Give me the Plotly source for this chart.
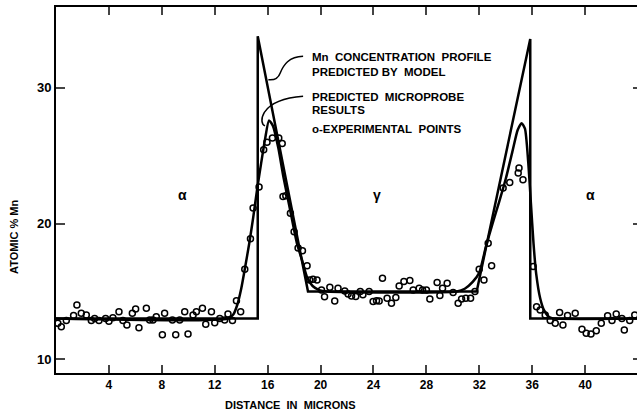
import plotly.graph_objects as go

# ---- Data ----
model_x = [0, 15.25, 15.25, 19.05, 31.8, 35.85, 35.85, 44]
model_y = [13.0, 13.0, 33.8, 15.0, 15.0, 33.6, 13.0, 13.0]

probe_x = [0, 13.0, 13.4, 13.7, 14.0, 14.3, 14.6, 14.9, 15.2, 15.5, 15.8, 16.1, 16.4, 16.8,
           17.2, 17.7, 18.2, 18.6, 19.0, 19.4, 19.9, 20.5,
           30.3, 30.9, 31.5, 32.0, 32.5, 33.0, 33.5, 34.0, 34.5, 34.9, 35.2, 35.45, 35.7,
           35.9, 36.1, 36.3, 36.6, 36.9, 37.3, 37.8, 44]
probe_y = [13.0, 13.0, 13.3, 14.0, 15.2, 16.8, 18.5, 20.4, 22.5, 24.4, 26.2, 27.6, 27.2, 25.6,
           23.4, 21.0, 18.6, 17.3, 16.0, 15.4, 15.1, 15.0,
           15.0, 15.2, 15.7, 16.4, 18.3, 20.0, 21.6, 23.3, 25.3, 26.9, 27.4, 27.0, 24.5,
           21.5, 18.5, 16.3, 14.5, 13.6, 13.1, 13.0, 13.0]

exp_x = [0.14, 0.4, 0.78, 1.33, 1.58, 1.91, 2.29, 2.67, 2.92, 3.25, 3.75, 4.0, 4.3, 4.76,
         5.06, 5.36, 5.77, 6.02, 6.27, 6.83, 7.08, 7.33, 7.58, 8.04, 8.21, 8.8, 9.05, 9.35,
         9.73, 9.98, 10.36, 10.61, 11.07, 11.32, 11.75, 12.0, 12.38, 12.75, 13.0, 13.34,
         13.64, 13.96, 14.27, 14.7, 14.9, 15.35, 15.7, 15.95, 16.36, 16.84, 17.1, 17.16,
         17.37, 17.72, 18.0, 18.3, 18.63, 18.98, 19.18, 19.43, 19.73, 20.07, 20.3, 20.7,
         21.07, 21.32, 21.83, 22.08, 22.34, 22.66, 23.0, 23.2, 23.67, 23.97, 24.23, 24.43,
         24.68, 25.03, 25.36, 25.69, 25.94, 26.3, 26.75, 27.0, 27.45, 27.71, 28.0, 28.26,
         28.81, 29.02, 29.22, 29.57, 30.02, 30.4, 30.66, 30.98, 31.34, 31.67, 31.99, 32.35,
         32.67, 32.93, 33.8, 34.3, 34.94, 35.0, 35.3, 36.07, 36.33, 36.6, 36.98, 37.36,
         37.74, 38.07, 38.32, 38.67, 39.25, 39.76, 40.08, 40.44, 40.84, 41.22, 41.7, 42.03,
         42.35, 42.78, 42.96, 43.37, 43.75]
exp_y = [12.66, 12.4, 12.85, 13.22, 14.0, 13.4, 13.27, 12.85, 13.0, 12.85, 13.0, 12.8, 13.07,
         13.5, 12.85, 12.53, 13.4, 13.7, 12.33, 13.76, 12.9, 12.9, 13.14, 11.8, 13.4, 12.9,
         11.8, 12.9, 13.5, 11.87, 13.27, 13.5, 13.76, 12.58, 13.5, 12.7, 13.0, 12.9, 13.34,
         12.85, 14.32, 13.5, 16.64, 18.88, 21.14, 22.7, 25.45, 26.0, 26.3, 26.3, 25.9, 22.0,
         22.05, 20.77, 19.4, 18.2, 18.0, 16.9, 15.85, 15.9, 15.85, 15.1, 14.6, 15.3, 14.3,
         15.24, 15.04, 14.82, 14.67, 14.62, 14.99, 14.75, 14.99, 14.25, 14.32, 14.3, 15.98,
         14.5, 14.13, 14.55, 15.41, 15.73, 15.8, 15.1, 15.24, 15.1, 15.1, 14.45, 15.65, 14.7,
         15.24, 15.6, 14.92, 14.13, 14.45, 14.5, 14.5, 15.0, 16.64, 15.85, 18.56, 16.9,
         22.62, 23.03, 23.73, 24.1, 23.23, 16.83, 13.88, 13.64, 13.27, 12.85, 12.66, 13.44,
         12.53, 13.22, 13.4, 12.21, 11.92, 11.87, 12.11, 12.66, 13.2, 12.85, 13.34, 13.0,
         12.16, 12.85, 13.27]

x_ticks = [4, 8, 12, 16, 20, 24, 28, 32, 36, 40]
y_ticks = [10, 20, 30]

FONT = "Liberation Sans"
SP = "\u00a0\u00a0"

fig = go.Figure()
fig.add_trace(go.Scatter(x=model_x, y=model_y, mode="lines",
                         line=dict(color="black", width=2.5), showlegend=False))
fig.add_trace(go.Scatter(x=probe_x, y=probe_y, mode="lines",
                         line=dict(color="black", width=2.5, shape="spline", smoothing=0.6),
                         showlegend=False))
fig.add_trace(go.Scatter(x=exp_x, y=exp_y, mode="markers",
                         marker=dict(symbol="circle-open", size=6, color="black",
                                     line=dict(width=1.5, color="black")),
                         showlegend=False))
# invisible trace for right-hand ticks
fig.add_trace(go.Scatter(x=[0], y=[10], yaxis="y2", mode="markers",
                         marker=dict(opacity=0), showlegend=False, hoverinfo="skip"))

fig.update_layout(
    width=637, height=414,
    margin=dict(l=56, r=0, t=7, b=41),
    paper_bgcolor="white", plot_bgcolor="white",
    font=dict(family=FONT, size=12, color="black", weight="bold"),
    xaxis=dict(range=[0, 43.92], tickvals=x_ticks, ticks="inside", ticklen=8, tickwidth=1.5,
               showline=True, linewidth=2, linecolor="black", mirror="ticks",
               showgrid=False, zeroline=False, tickfont=dict(size=12)),
    yaxis=dict(range=[8.99, 35.96], tickvals=y_ticks, ticks="inside", ticklen=9, tickwidth=1.5,
               showline=True, linewidth=2, linecolor="black", mirror=False,
               showgrid=False, zeroline=False, tickfont=dict(size=13)),
    yaxis2=dict(range=[8.99, 35.96], overlaying="y", side="right", tickvals=y_ticks,
                ticks="inside", ticklen=4, tickwidth=1.5, showline=False,
                showticklabels=False, showgrid=False, zeroline=False),
)

ann = []
def txt(x, y, s, size=11.5, xanchor="left"):
    ann.append(dict(x=x, y=y, xref="x", yref="y", text=s, showarrow=False,
                    xanchor=xanchor, yanchor="middle", font=dict(size=size)))

txt(19.2, 32.3, "Mn" + SP + "CONCENTRATION" + SP + "PROFILE")
txt(19.2, 31.2, "PREDICTED BY" + SP + "MODEL")
txt(19.2, 29.3, "PREDICTED" + SP + "MICROPROBE")
txt(19.2, 28.35, "RESULTS")
txt(19.2, 26.95, "o-EXPERIMENTAL" + SP + "POINTS")
txt(9.6, 22.1, "α", size=14, xanchor="center")
txt(24.3, 22.1, "γ", size=14, xanchor="center")
txt(40.4, 22.1, "α", size=14, xanchor="center")

ann.append(dict(x=-0.0723, y=0.3716, xref="paper", yref="paper", text="ATOMIC % Mn",
                showarrow=False, textangle=-90, xanchor="center", yanchor="middle",
                font=dict(size=11)))
ann.append(dict(x=0.4028, y=-0.0874, xref="paper", yref="paper",
                text="DISTANCE" + SP + "IN" + SP + "MICRONS",
                showarrow=False, xanchor="center", yanchor="middle", font=dict(size=11)))
fig.update_layout(annotations=ann)

fig.update_layout(shapes=[
    dict(type="path", xref="x", yref="y",
         path="M 18.68 32.33 C 17.6 32.3, 17.2 31.7, 16.95 31.1 C 16.8 30.7, 16.5 30.55, 16.05 30.6",
         line=dict(color="black", width=1.5)),
    dict(type="path", xref="x", yref="y",
         path="M 18.68 29.38 C 17.5 29.3, 16.3 29.0, 15.75 28.2 C 15.45 27.7, 15.55 27.3, 15.8 27.2",
         line=dict(color="black", width=1.5)),
])

fig.write_html("out.html")
